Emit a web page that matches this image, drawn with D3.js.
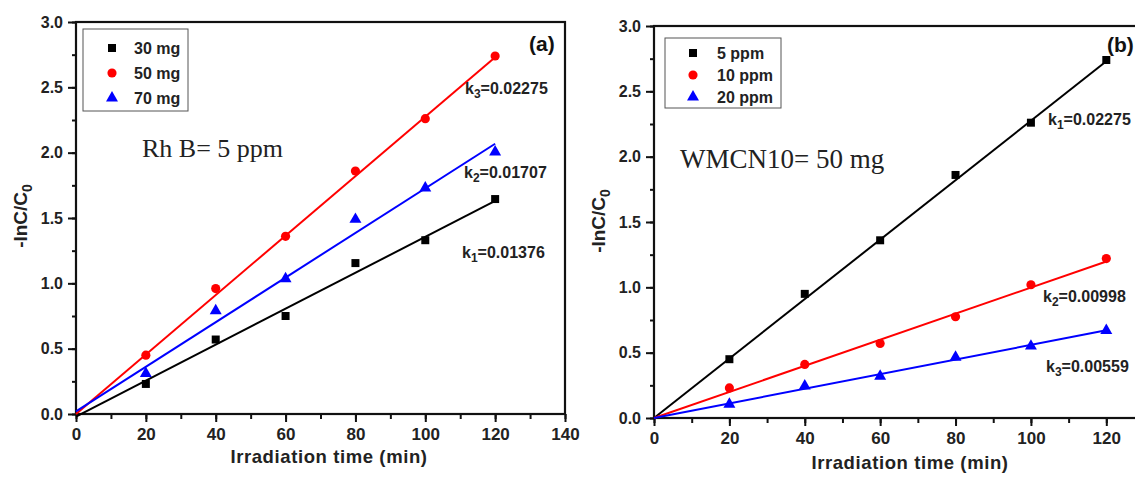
<!DOCTYPE html>
<html>
<head>
<meta charset="utf-8">
<script src="https://cdn.jsdelivr.net/npm/d3@7"></script>
<style>
  html, body { margin: 0; padding: 0; background: #fff; }
  svg { display: block; font-family: "Liberation Sans", Arial, sans-serif; }
</style>
</head>
<body>
<svg id="chart" width="1135" height="477"></svg>
<script>
// ---------- DATA ----------
const timeMin = [20, 40, 60, 80, 100, 120];

// Panel (a): catalyst dose, RhB = 5 ppm
const seriesA = ["30 mg", "50 mg", "70 mg"];
const valuesA30 = [0.23, 0.57, 0.75, 1.155, 1.33, 1.645];
const valuesA50 = [0.45, 0.96, 1.36, 1.86, 2.26, 2.74];
const valuesA70 = [0.31, 0.79, 1.035, 1.49, 1.73, 2.005];
const fitKA = [0.01376, 0.02275, 0.01707];
const fitB0A = [-0.02, 0.0, 0.02];
const kLabelsA = [["k", "1", "=0.01376"], ["k", "3", "=0.02275"], ["k", "2", "=0.01707"]];

// Panel (b): dye concentration, WMCN10 = 50 mg
const seriesB = ["5 ppm", "10 ppm", "20 ppm"];
const valuesB5 = [0.45, 0.95, 1.36, 1.86, 2.26, 2.74];
const valuesB10 = [0.23, 0.41, 0.57, 0.775, 1.02, 1.22];
const valuesB20 = [0.105, 0.245, 0.32, 0.465, 0.55, 0.67];
const fitKB = [0.02275, 0.00998, 0.00559];
const fitB0B = [0.0, 0.0, 0.0];
const kLabelsB = [["k", "1", "=0.02275"], ["k", "2", "=0.00998"], ["k", "3", "=0.00559"]];

const xMajorA = [0, 20, 40, 60, 80, 100, 120, 140];
const xMajorB = [0, 20, 40, 60, 80, 100, 120];
const yMajor = [0.0, 0.5, 1.0, 1.5, 2.0, 2.5, 3.0];

const colors = ["#000000", "#ff0000", "#0000ff"];
const shapes = ["square", "circle", "triangle"];

// ---------- DRAW ----------
const svg = d3.select("#chart");
const SANS = "'Liberation Sans', Arial, sans-serif";
const SERIF = "'Liberation Serif', 'Times New Roman', serif";

function symbolFor(shape) {
  if (shape === "square") return d3.symbol().type(d3.symbolSquare).size(64);
  if (shape === "circle") return d3.symbol().type(d3.symbolCircle).size(66);
  return d3.symbol().type(d3.symbolTriangle).size(62);
}

function kText(g, x, y, parts) {
  const t = g.append("text").attr("x", x).attr("y", y)
    .style("font-family", SANS)
    .attr("font-size", 16).attr("font-weight", "bold").attr("fill", "#222");
  t.append("tspan").text(parts[0]);
  t.append("tspan").attr("font-size", 12).attr("dy", 4).text(parts[1]);
  t.append("tspan").attr("dy", -4).text(parts[2]);
}

function drawPanel(cfg) {
  const x = d3.scaleLinear().domain(cfg.xDomain).range([cfg.left, cfg.right]);
  const y = d3.scaleLinear().domain([0, 3]).range([cfg.bottom, cfg.top]);
  const g = svg.append("g");

  // frame
  g.append("rect")
    .attr("x", cfg.left).attr("y", cfg.top)
    .attr("width", cfg.right - cfg.left).attr("height", cfg.bottom - cfg.top)
    .attr("fill", "none").attr("stroke", "#111").attr("stroke-width", 2.2);

  // x axis
  const xMinor = d3.range(cfg.xDomain[0], cfg.xDomain[1] + 0.1, 10);
  g.append("g").attr("transform", `translate(0,${cfg.bottom})`)
    .call(d3.axisBottom(x).tickValues(xMinor).tickSize(5).tickFormat(""))
    .call(a => a.select(".domain").remove())
    .call(a => a.selectAll("line").attr("stroke", "#111").attr("stroke-width", 2));
  g.append("g").attr("transform", `translate(0,${cfg.bottom})`)
    .call(d3.axisBottom(x).tickValues(cfg.xMajor).tickSize(8).tickPadding(6).tickFormat(d3.format("d")))
    .call(a => a.select(".domain").remove())
    .call(a => a.selectAll("line").attr("stroke", "#111").attr("stroke-width", 2))
    .call(a => a.selectAll("text").attr("font-size", 17).attr("font-weight", "bold")
      .attr("fill", "#222").style("font-family", SANS));

  // y axis
  const yMinor = d3.range(0, 3.01, 0.25);
  g.append("g").attr("transform", `translate(${cfg.left},0)`)
    .call(d3.axisLeft(y).tickValues(yMinor).tickSize(4).tickFormat(""))
    .call(a => a.select(".domain").remove())
    .call(a => a.selectAll("line").attr("stroke", "#111").attr("stroke-width", 2));
  g.append("g").attr("transform", `translate(${cfg.left},0)`)
    .call(d3.axisLeft(y).tickValues(yMajor).tickSize(8).tickPadding(5).tickFormat(d3.format(".1f")))
    .call(a => a.select(".domain").remove())
    .call(a => a.selectAll("line").attr("stroke", "#111").attr("stroke-width", 2))
    .call(a => a.selectAll("text").attr("font-size", 16).attr("font-weight", "bold")
      .attr("fill", "#222").style("font-family", SANS));

  // axis titles
  g.append("text")
    .attr("x", cfg.xTitleX).attr("y", cfg.xTitleY)
    .style("font-family", SANS)
    .attr("text-anchor", "middle").attr("font-size", 18.5).attr("font-weight", "bold")
    .attr("letter-spacing", 0.6).attr("fill", "#222")
    .text("Irradiation time (min)");
  const yt = g.append("text")
    .attr("transform", `translate(${cfg.yTitleX},${cfg.yTitleY}) rotate(-90)`)
    .style("font-family", SANS)
    .attr("text-anchor", "middle").attr("font-size", 19).attr("font-weight", "bold").attr("fill", "#222");
  yt.append("tspan").text("-lnC/C");
  yt.append("tspan").attr("font-size", 14).attr("dy", 5).text("0");

  // fit lines and points
  cfg.series.forEach((vals, i) => {
    const k = cfg.fitK[i], b0 = cfg.fitB0[i];
    const line = d3.line().x(d => x(d)).y(d => y(b0 + k * d));
    g.append("path").datum([0, 120])
      .attr("d", line).attr("fill", "none")
      .attr("stroke", colors[i]).attr("stroke-width", 2);
    g.selectAll(null).data(vals).enter().append("path")
      .attr("d", symbolFor(shapes[i]))
      .attr("transform", (d, j) => `translate(${x(timeMin[j])},${y(d)})`)
      .attr("fill", colors[i]);
  });

  // k labels
  cfg.kLabels.forEach((p, i) => kText(g, cfg.kPos[i][0], cfg.kPos[i][1], p));

  // legend
  const L = cfg.legend;
  g.append("rect").attr("x", L.x).attr("y", L.y).attr("width", L.w).attr("height", L.h)
    .attr("fill", "#fff").attr("stroke", "#555").attr("stroke-width", 1);
  cfg.names.forEach((n, i) => {
    const cy = L.y0 + i * L.dy;
    g.append("path").attr("d", symbolFor(shapes[i]))
      .attr("transform", `translate(${L.mx},${cy})`).attr("fill", colors[i]);
    g.append("text").attr("x", L.tx).attr("y", cy + 6)
      .style("font-family", SANS)
      .attr("font-size", L.fs).attr("font-weight", "bold").attr("fill", "#222").text(n);
  });

  // panel label and condition
  g.append("text").attr("x", cfg.tag[0]).attr("y", cfg.tag[1])
    .style("font-family", SANS)
    .attr("font-size", 21).attr("font-weight", "bold").attr("fill", "#111").text(cfg.tagText);
  g.append("text").attr("x", cfg.note[0]).attr("y", cfg.note[1])
    .style("font-family", SERIF)
    .attr("font-size", cfg.noteSize).attr("fill", "#222").text(cfg.noteText);
}

drawPanel({
  left: 76, right: 565, top: 22, bottom: 414,
  xDomain: [0, 140], xMajor: xMajorA,
  series: [valuesA30, valuesA50, valuesA70],
  fitK: fitKA, fitB0: fitB0A, names: seriesA,
  kLabels: kLabelsA,
  kPos: [[462, 258], [465, 94], [464, 178]],
  legend: {x: 83, y: 29, w: 105, h: 82, mx: 112, tx: 134, y0: 48, dy: 25, fs: 16},
  tag: [529, 51], tagText: "(a)",
  note: [142, 157], noteText: "Rh B= 5 ppm", noteSize: 26,
  xTitleX: 329, xTitleY: 463, yTitleX: 27, yTitleY: 216
});

drawPanel({
  left: 654, right: 1144, top: 26, bottom: 418,
  xDomain: [0, 130], xMajor: xMajorB,
  series: [valuesB5, valuesB10, valuesB20],
  fitK: fitKB, fitB0: fitB0B, names: seriesB,
  kLabels: kLabelsB,
  kPos: [[1048, 125], [1043, 302], [1046, 372]],
  legend: {x: 665, y: 38, w: 116, h: 70, mx: 693, tx: 717, y0: 53, dy: 22, fs: 16},
  tag: [1107, 52], tagText: "(b)",
  note: [680, 168], noteText: "WMCN10= 50 mg", noteSize: 27,
  xTitleX: 910, xTitleY: 469, yTitleX: 605, yTitleY: 221
});
</script>
</body>
</html>
